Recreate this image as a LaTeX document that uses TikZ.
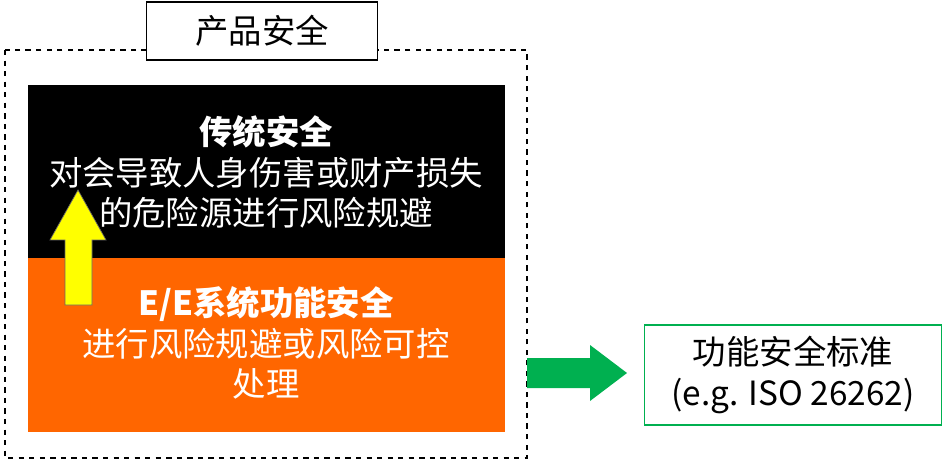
\documentclass[tikz,border=0pt]{standalone}
\usepackage{fontspec}
\setmainfont{Noto Sans CJK SC}
\usetikzlibrary{positioning}
\definecolor{eeorange}{HTML}{FF6600}
\definecolor{stdgreen}{HTML}{00B050}
\definecolor{arrowyellow}{HTML}{FFFF00}
\tikzset{
  boxtext/.style={font=\fontsize{19}{23}\selectfont, align=center},
}
\begin{document}
\begin{tikzpicture}[x=0.02cm,y=-0.02cm]
    \useasboundingbox (0,0) rectangle (945,462);
    \draw[thick, dashed, line width=1.5pt] (5,50) rectangle (527,458);
    \node[draw, fill=white, line width=1pt, minimum width=4.62cm, minimum height=1.16cm, boxtext] (title) at (262,31) {产品安全};
    \fill[black] (28,85) rectangle (505,258);
    \fill[eeorange] (28,258) rectangle (505,432);
    \node[boxtext, text=white] (trad) at (266,172) {\textbf{传统安全}\\对会导致人身伤害或财产损失\\的危险源进行风险规避};
    \node[boxtext, text=white] (ee) at (266,343) {\textbf{E/E系统功能安全}\\进行风险规避或风险可控\\处理};
    % yellow arrow
    \draw[fill=arrowyellow, draw=black!60] (65,305) -- (65,240) -- (50,240) -- (78,190) -- (106,240) -- (92,240) -- (92,305) -- cycle;
    % green arrow
    \fill[stdgreen] (527,358) -- (590,358) -- (590,345) -- (627,373) -- (590,401) -- (590,388) -- (527,388) -- cycle;
    \node[draw=stdgreen, line width=1pt, fill=white, minimum width=5.94cm, minimum height=2cm, boxtext] (std) at (793,375) {功能安全标准\\(e.g. ISO 26262)};
\end{tikzpicture}
\end{document}
